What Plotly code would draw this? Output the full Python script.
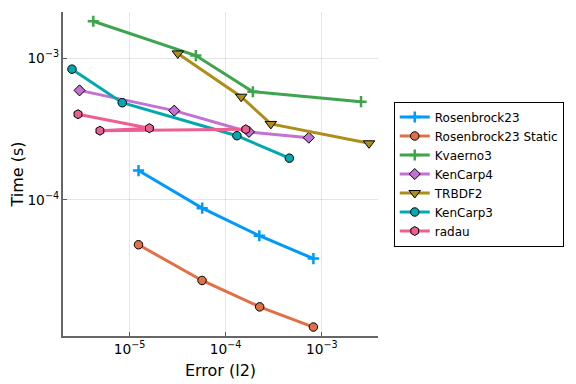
import plotly.graph_objects as go

# Data (error l2, time s)
rb23_err = [1.24e-5, 5.70e-5, 2.24e-4, 8.18e-4]
rb23_time = [1.61e-4, 8.73e-5, 5.57e-5, 3.84e-5]

rb23s_err = [1.24e-5, 5.68e-5, 2.26e-4, 8.18e-4]
rb23s_time = [4.81e-5, 2.69e-5, 1.75e-5, 1.26e-5]

kv3_err = [4.20e-6, 4.90e-5, 1.92e-4, 2.56e-3]
kv3_time = [1.83e-3, 1.047e-3, 5.81e-4, 4.94e-4]

kc4_err = [3.02e-6, 2.92e-5, 1.75e-4, 7.33e-4]
kc4_time = [5.94e-4, 4.27e-4, 3.02e-4, 2.75e-4]

trb_err = [3.18e-5, 1.45e-4, 2.95e-4, 3.10e-3]
trb_time = [1.084e-3, 5.36e-4, 3.44e-4, 2.51e-4]

kc3_err = [2.52e-6, 8.40e-6, 1.31e-4, 4.60e-4]
kc3_time = [8.39e-4, 4.86e-4, 2.84e-4, 1.97e-4]

radau_err = [2.91e-6, 1.61e-5, 4.92e-6, 1.62e-4]
radau_time = [4.03e-4, 3.21e-4, 3.08e-4, 3.15e-4]

series = [
    ("Rosenbrock23", rb23_err, rb23_time, "#009AFA", "cross-thin", 8),
    ("Rosenbrock23 Static", rb23s_err, rb23s_time, "#E36F47", "circle", 8.5),
    ("Kvaerno3", kv3_err, kv3_time, "#3EA44E", "cross-thin", 8),
    ("KenCarp4", kc4_err, kc4_time, "#C371D2", "diamond", 8.5),
    ("TRBDF2", trb_err, trb_time, "#AC8E18", "triangle-down", 10),
    ("KenCarp3", kc3_err, kc3_time, "#00A9AD", "circle", 8.5),
    ("radau", radau_err, radau_time, "#ED5E93", "hexagon", 9),
]

FONT = "DejaVu Sans"
fig = go.Figure()
for name, ex, ty, col, sym, sz in series:
    if sym == "cross-thin":
        marker = dict(symbol=sym, size=sz, color=col, line=dict(color=col, width=2.5))
    else:
        marker = dict(symbol=sym, size=sz, color=col, line=dict(color="black", width=1))
    fig.add_trace(go.Scatter(x=ex, y=ty, mode="lines+markers", name=name,
                             line=dict(color=col, width=3), marker=marker))

# page body adds an 8px offset, so the figure is sized to fit the window
fig.update_layout(
    width=568, height=376,
    margin=dict(l=55, r=198, t=4, b=48),
    paper_bgcolor="white", plot_bgcolor="white",
    font=dict(family=FONT, size=11, color="black"),
    legend=dict(x=1.05, y=0.50, xanchor="left", yanchor="middle",
                bordercolor="black", borderwidth=1, font=dict(size=12, family=FONT),
                bgcolor="white", tracegroupgap=0),
    showlegend=True,
)
axis_common = dict(type="log", dtick=1, exponentformat="power", showgrid=True,
                   gridcolor="rgba(0,0,0,0.1)", gridwidth=1, zeroline=False,
                   showline=True, linecolor="rgba(0,0,0,0.6)", linewidth=1.5,
                   ticks="inside", ticklen=4, tickcolor="rgba(0,0,0,0.6)",
                   tickfont=dict(size=11, family=FONT), mirror=False, automargin=False)
fig.update_xaxes(range=[-5.692, -2.415], title=dict(text="Error (l2)", font=dict(size=16, family=FONT), standoff=9), **axis_common)
fig.update_yaxes(range=[-4.963, -2.672], title=dict(text="Time (s)", font=dict(size=16, family=FONT), standoff=22), **axis_common)

fig.write_html("out.html")
